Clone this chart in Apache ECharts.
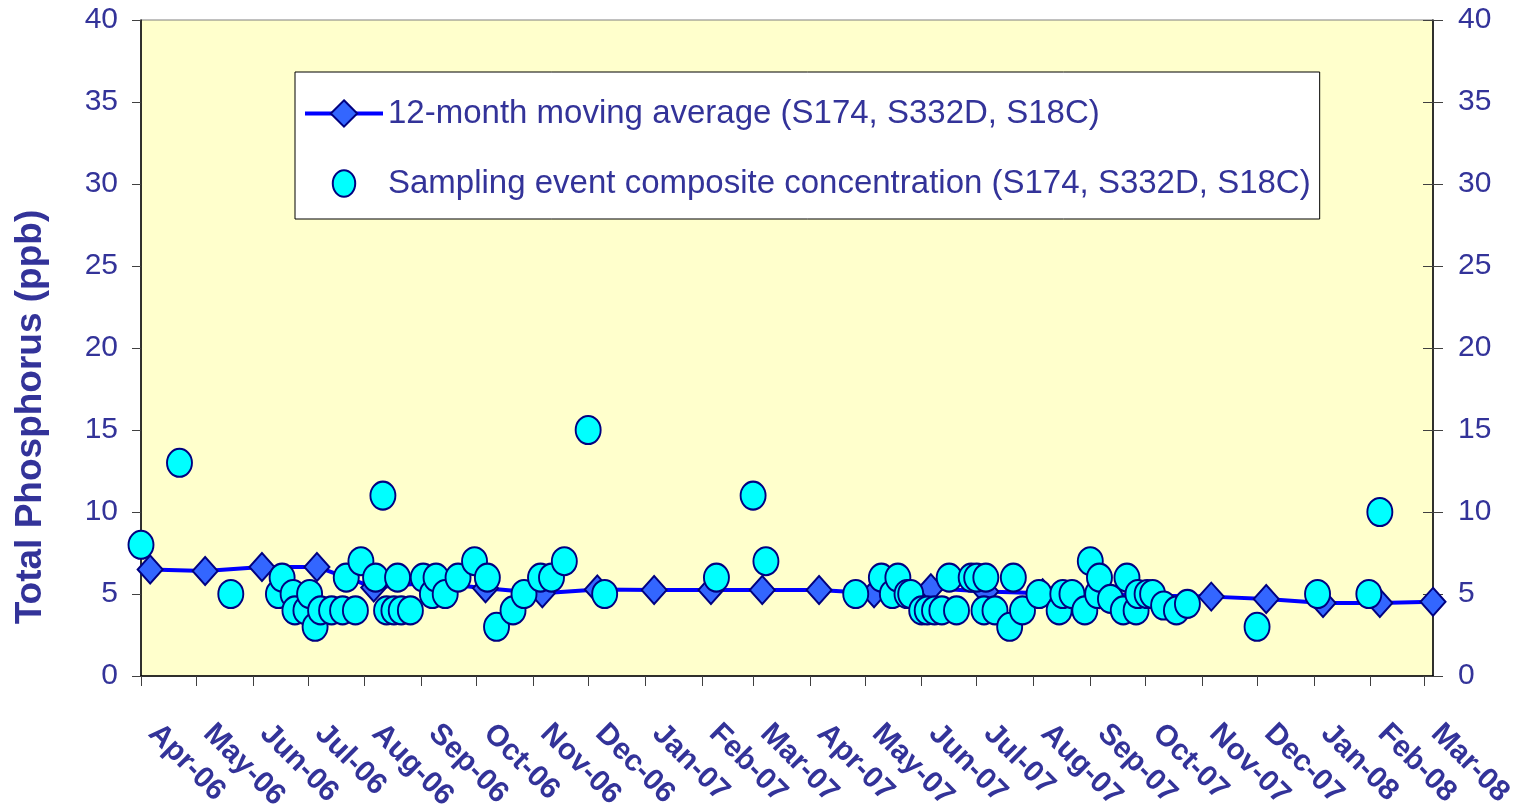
<!DOCTYPE html>
<html><head><meta charset="utf-8">
<script src="https://cdn.jsdelivr.net/npm/echarts@6/dist/echarts.min.js"></script>
<style>html,body{margin:0;padding:0;background:#fff}#c{width:1524px;height:808px}</style>
</head><body><div id="c"></div>
<script>
const monthLabels = ['Jan','Feb','Mar','Apr','May','Jun','Jul','Aug','Sep','Oct','Nov','Dec'];
const yTicks = [0, 5, 10, 15, 20, 25, 30, 35, 40];
const axisStart = '2006-04-01';
const axisEnd = '2008-03-06';

const avgName = '12-month moving average (S174, S332D, S18C)';
const sampleName = 'Sampling event composite concentration (S174, S332D, S18C)';

const avgDates = ['2006-04-06','2006-05-06','2006-06-06','2006-07-06','2006-08-06','2006-09-06',
  '2006-10-06','2006-11-06','2006-12-06','2007-01-06','2007-02-06','2007-03-06','2007-04-06',
  '2007-05-06','2007-06-06','2007-07-06','2007-08-06','2007-09-06','2007-10-06','2007-11-06',
  '2007-12-06','2008-01-06','2008-02-06','2008-03-06'];
const avgValues = [6.5, 6.4, 6.65, 6.65, 5.4, 5.7, 5.35, 5.05, 5.28, 5.25, 5.25, 5.25, 5.25,
  5.05, 5.35, 5.15, 5.05, 5.0, 4.9, 4.84, 4.7, 4.45, 4.45, 4.52];

const sampleDates = ['2006-04-01','2006-04-22','2006-05-20','2006-06-15','2006-06-17','2006-06-23',
  '2006-06-24','2006-06-30','2006-07-02','2006-07-05','2006-07-08','2006-07-14','2006-07-20',
  '2006-07-22','2006-07-27','2006-07-30','2006-08-07','2006-08-11','2006-08-13','2006-08-17',
  '2006-08-19','2006-08-21','2006-08-26','2006-09-02','2006-09-07','2006-09-09','2006-09-14',
  '2006-09-21','2006-09-30','2006-10-07','2006-10-12','2006-10-21','2006-10-27','2006-11-05',
  '2006-11-11','2006-11-18','2006-12-01','2006-12-10','2007-02-09','2007-03-01','2007-03-08',
  '2007-04-26','2007-05-10','2007-05-16','2007-05-19','2007-05-24','2007-05-26','2007-06-01',
  '2007-06-04','2007-06-08','2007-06-12','2007-06-16','2007-06-20','2007-06-28','2007-07-01',
  '2007-07-05','2007-07-06','2007-07-11','2007-07-19','2007-07-21','2007-07-26','2007-08-04',
  '2007-08-15','2007-08-17','2007-08-22','2007-08-29','2007-09-01','2007-09-05','2007-09-06',
  '2007-09-12','2007-09-19','2007-09-21','2007-09-26','2007-09-27','2007-10-02','2007-10-05',
  '2007-10-11','2007-10-18','2007-10-24','2007-12-01','2008-01-03','2008-01-31','2008-02-06'];
const sampleValues = [8, 13, 5, 5, 6, 5,
  4, 4, 5, 3, 4, 4, 4,
  6, 4, 7, 6, 11, 4, 4,
  6, 4, 4, 6, 5, 6, 5,
  6, 7, 6, 3, 4, 5, 6,
  6, 7, 15, 5, 6, 11, 7,
  5, 6, 5, 6, 5, 5, 4,
  4, 4, 4, 6, 4, 6, 6,
  4, 6, 4, 3, 6, 4, 5,
  4, 5, 5, 4, 7, 5, 6,
  4.7, 4, 6, 4, 5, 5, 5,
  4.3, 4, 4.4, 3, 5, 5, 10];

function toTime(s) { const p = s.split('-').map(Number); return new Date(p[0], p[1] - 1, p[2]).getTime(); }

const TXT = '#333399';
const FONT = "'Liberation Sans', Arial, sans-serif";
const DAY = 86400000;
// legend ellipse icon drawn inside a 100x100 box (corner moves keep the box size)
const legendEllipse = 'path://M0,0M100,0M0,100M100,100M50,10C69,10 84,28 84,50C84,72 69,90 50,90C31,90 16,72 16,50C16,28 31,10 50,10Z';

const chart = echarts.init(document.getElementById('c'), null, { renderer: 'canvas' });
chart.setOption({
  animation: false,
  backgroundColor: '#ffffff',
  textStyle: { fontFamily: FONT },
  grid: {
    left: 141, right: 91, top: 20, bottom: 132,
    show: true, backgroundColor: '#FFFFCC', borderColor: '#808080', borderWidth: 1,
    containLabel: false, outerBoundsMode: 'none'
  },
  legend: {
    orient: 'vertical', left: 295, top: 72,
    backgroundColor: '#ffffff', borderColor: '#000000', borderWidth: 1, borderRadius: 0,
    padding: [25, 9, 18, 8], itemGap: 36, itemWidth: 78, itemHeight: 33,
    textStyle: { color: TXT, fontSize: 33, fontFamily: FONT },
    data: [
      { name: avgName, lineStyle: { width: 4, color: '#0000FF' } },
      { name: sampleName, icon: legendEllipse }
    ]
  },
  xAxis: {
    type: 'time',
    min: toTime(axisStart), max: toTime(axisEnd),
    splitNumber: 24, minInterval: 27 * DAY, maxInterval: 32 * DAY,
    axisLine: { lineStyle: { color: '#000000', width: 1.5 } },
    axisTick: { show: true, length: 10, lineStyle: { color: '#404040' } },
    splitLine: { show: false },
    axisLabel: {
      rotate: -45, margin: 41, padding: [0, 0, 0, 17],
      color: TXT, fontSize: 30, fontWeight: 'bold', fontFamily: FONT,
      hideOverlap: false, showMinLabel: true, showMaxLabel: false,
      formatter: function (v) {
        const d = new Date(v);
        return monthLabels[d.getMonth()] + '-' + String(d.getFullYear()).slice(2);
      }
    }
  },
  yAxis: [
    {
      type: 'value', position: 'left', min: yTicks[0], max: yTicks[yTicks.length - 1], interval: yTicks[1] - yTicks[0],
      name: 'Total Phosphorus (ppb)', nameLocation: 'middle', nameGap: 92,
      nameTextStyle: { color: TXT, fontSize: 37, fontWeight: 'bold', fontFamily: FONT, padding: [0, 138, 0, 0] },
      axisLine: { show: true, lineStyle: { color: '#000000', width: 1.5 } },
      axisTick: { show: true, length: 9, lineStyle: { color: '#404040' } },
      splitLine: { show: false },
      axisLabel: { margin: 23, color: TXT, fontSize: 30, fontFamily: FONT }
    },
    {
      type: 'value', position: 'right', min: yTicks[0], max: yTicks[yTicks.length - 1], interval: yTicks[1] - yTicks[0],
      axisLine: { show: true, lineStyle: { color: '#000000', width: 1.5 } },
      axisTick: { show: true, length: 10, lineStyle: { color: '#404040' } },
      splitLine: { show: false },
      axisLabel: { margin: 25, color: TXT, fontSize: 30, fontFamily: FONT }
    },
    {
      type: 'value', position: 'right', min: yTicks[0], max: yTicks[yTicks.length - 1], interval: yTicks[1] - yTicks[0],
      axisLine: { show: false },
      axisTick: { show: true, inside: true, length: 10, lineStyle: { color: '#404040' } },
      splitLine: { show: false },
      axisLabel: { show: false }
    }
  ],
  series: [
    {
      name: avgName, type: 'line', yAxisIndex: 0,
      data: avgDates.map((d, i) => [toTime(d), avgValues[i]]),
      symbol: 'diamond', symbolSize: [25, 28],
      lineStyle: { color: '#0000FF', width: 4 },
      itemStyle: { color: '#3366FF', borderColor: '#000080', borderWidth: 2 },
      clip: false, z: 2
    },
    {
      name: sampleName, type: 'scatter', yAxisIndex: 0,
      data: sampleDates.map((d, i) => [toTime(d), sampleValues[i]]),
      symbol: 'circle', symbolSize: [25, 28],
      itemStyle: { color: '#00FFFF', borderColor: '#000080', borderWidth: 2, opacity: 1 },
      clip: false, z: 3
    }
  ]
});
</script>
</body></html>
